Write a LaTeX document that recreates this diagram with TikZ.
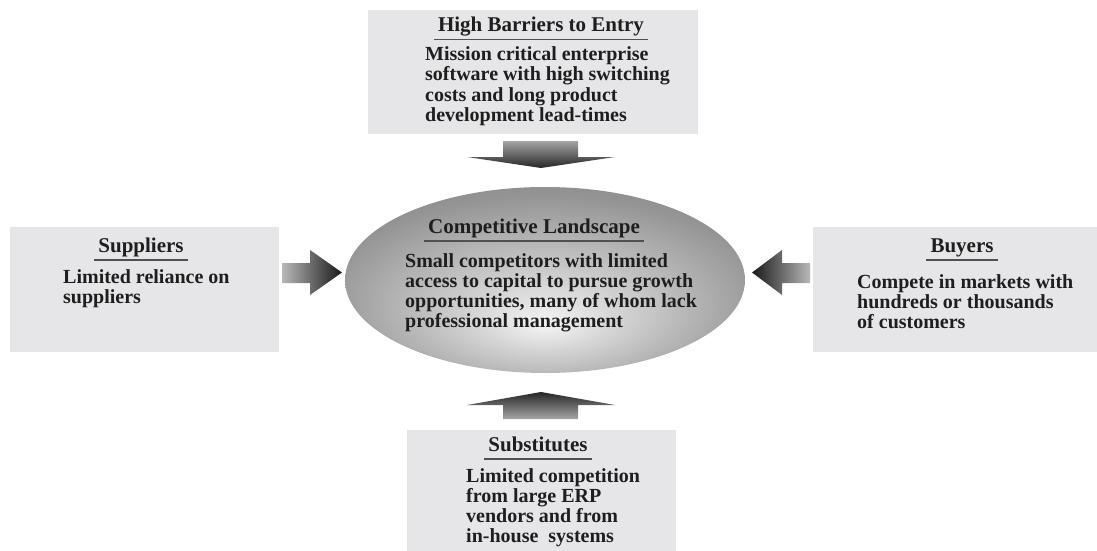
\documentclass[tikz,border=0pt]{standalone}
\usepackage{fontspec}
\setmainfont{Liberation Serif}
\usetikzlibrary{shapes.geometric}
\definecolor{boxgray}{RGB}{230,230,232}
\definecolor{rulegray}{RGB}{80,80,80}
\definecolor{txt}{RGB}{30,30,30}
\pgfdeclareradialshading{ellshade}{\pgfpoint{0bp}{-12bp}}{color(0bp)=(white!96!black); color(10bp)=(white!82!black); color(28bp)=(white!58!black); color(50bp)=(white!44!black)}
\tikzset{
  box/.style={fill=boxgray, draw=none, inner sep=0pt},
  ttl/.style={font=\fontsize{21}{21}\selectfont\bfseries, text=txt, inner xsep=4pt, inner ysep=3pt, text depth=4.5pt},
  body/.style={font=\fontsize{20}{20}\selectfont\bfseries, text=txt, align=left, inner sep=0pt},
  uline/.style={draw=rulegray, line width=1.6pt},
}
\begin{document}
\begin{tikzpicture}[x=1pt,y=-1pt]
\useasboundingbox (0,0) rectangle (1097,551);
% boxes
\node[box, minimum width=330pt, minimum height=124pt] (topbox) at (533,72) {};
\node[box, minimum width=269pt, minimum height=125pt] (leftbox) at (144.5,289.5) {};
\node[box, minimum width=284pt, minimum height=125pt] (rightbox) at (955,289.5) {};
\node[box, minimum width=269pt, minimum height=121pt] (botbox) at (541.5,490.5) {};
% ellipse
\node[ellipse, shading=ellshade, minimum width=400pt, minimum height=186pt, inner sep=0pt] (core) at (545,280) {};
% arrows
\shade[top color=white!65!black, bottom color=black!85] (503,141) -- (578,141) -- (578,157) -- (615,157) -- (541,168) -- (467,157) -- (503,157) -- cycle;
\shade[bottom color=white!65!black, top color=black!85] (503,419) -- (578,419) -- (578,405) -- (615,405) -- (541,392) -- (467,405) -- (503,405) -- cycle;
\shade[left color=white!72!black, right color=black!90] (282,263) -- (310,263) -- (310,250) -- (342,272.5) -- (310,295) -- (310,283) -- (282,283) -- cycle;
\shade[right color=white!72!black, left color=black!90] (810,263) -- (782,263) -- (782,250) -- (752,272.5) -- (782,295) -- (782,283) -- (810,283) -- cycle;
% titles
\node[ttl, anchor=base] (toptitle) at (541,32) {High Barriers to Entry};
\draw[uline] (toptitle.south west) -- (toptitle.south east);
\node[ttl, anchor=base] (lefttitle) at (141,252) {Suppliers};
\draw[uline] (lefttitle.south west) -- (lefttitle.south east);
\node[ttl, anchor=base] (righttitle) at (962,252) {Buyers};
\draw[uline] (righttitle.south west) -- (righttitle.south east);
\node[ttl, anchor=base] (coretitle) at (534,233) {Competitive Landscape};
\draw[uline] (coretitle.south west) -- (coretitle.south east);
\node[ttl, anchor=base] (bottitle) at (538,451) {Substitutes};
\draw[uline] (bottitle.south west) -- (bottitle.south east);
% bodies (anchor at baseline of last line)
\node[body, anchor=base west] (topbody) at (425,121) {Mission critical enterprise\\software with high switching\\costs and long product\\development lead-times};
\node[body, anchor=base west] (leftbody) at (63,303) {Limited reliance on\\suppliers};
\node[body, anchor=base west] (rightbody) at (857,328) {Compete in markets with\\hundreds or thousands\\of customers};
\node[body, anchor=base west] (corebody) at (405,327) {Small competitors with limited\\access to capital to pursue growth\\opportunities, many of whom lack\\professional management};
\node[body, anchor=base west] (botbody) at (466,542) {Limited competition\\from large ERP\\vendors and from\\in-house\ \ systems};
\end{tikzpicture}
\end{document}
